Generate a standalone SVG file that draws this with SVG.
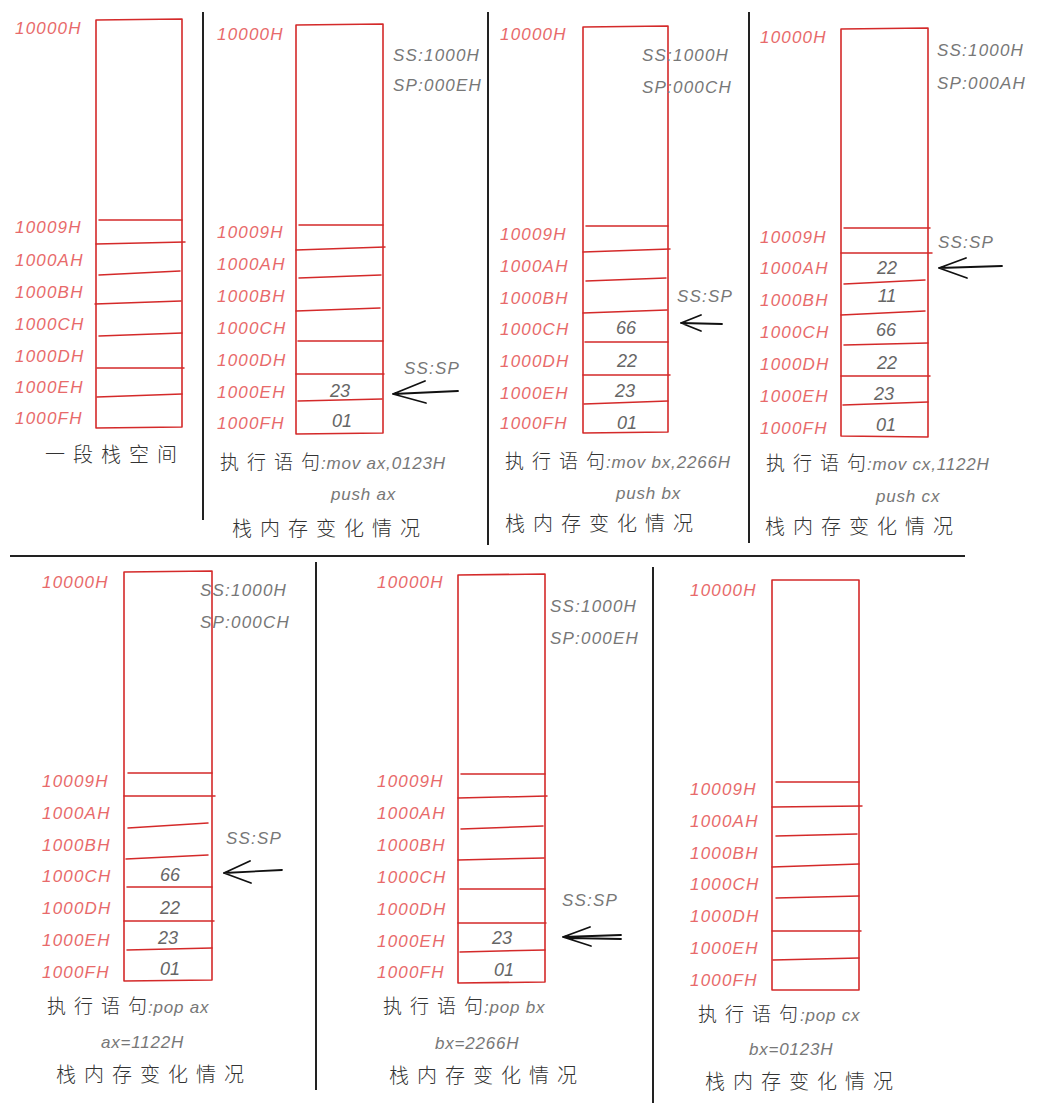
<svg xmlns="http://www.w3.org/2000/svg" width="1039" height="1113" viewBox="0 0 1039 1113">
<style>
.bg{fill:#ffffff}
.box{fill:none;stroke:#d42a2a;stroke-width:1.6;stroke-linecap:round;stroke-linejoin:round}
.row{fill:none;stroke:#d42a2a;stroke-width:1.5;stroke-linecap:round}
.div{stroke:#222;stroke-width:2;fill:none}
.addr{font-family:"Liberation Sans",Arial,sans-serif;font-style:italic;font-size:17px;letter-spacing:1.2px;fill:#e86a6a}
.val{font-family:"Liberation Sans",Arial,sans-serif;font-style:italic;font-size:18px;fill:#666;text-anchor:middle}
.reg{font-family:"Liberation Sans",Arial,sans-serif;font-style:italic;font-size:17px;letter-spacing:1.2px;fill:#777}
.ins{font-family:"Liberation Sans",Arial,sans-serif;font-style:italic;font-size:17px;letter-spacing:0.8px;fill:#777}
.cn{font-family:"Noto Sans CJK SC",sans-serif;font-weight:300;font-size:19px;fill:#333}
.arr{fill:none;stroke:#111;stroke-width:1.8;stroke-linecap:round}
</style>
<rect class="bg" x="0" y="0" width="1039" height="1113"/>

<g id="dividers">
<line class="div" x1="203" y1="12" x2="203" y2="520"/>
<line class="div" x1="488" y1="12" x2="488" y2="545"/>
<line class="div" x1="749" y1="12" x2="749" y2="543"/>
<line class="div" x1="10" y1="556" x2="965" y2="556"/>
<line class="div" x1="316" y1="562" x2="316" y2="1090"/>
<line class="div" x1="653" y1="567" x2="653" y2="1103"/>
</g>

<g id="panel1">
<path class="box" d="M96 20 L182 19 L182 427 L96 428 Z"/>
<path class="row" d="M99 220 H182 M96 244 L185 242 M99 275 L180 271 M95 304 L181 301 M99 336 L182 333 M97 368 H184 M97 397 L182 394"/>
<text class="addr" x="15" y="34">10000H</text>
<text class="addr" x="15" y="233">10009H</text>
<text class="addr" x="15" y="266">1000AH</text>
<text class="addr" x="15" y="298">1000BH</text>
<text class="addr" x="15" y="330">1000CH</text>
<text class="addr" x="15" y="362">1000DH</text>
<text class="addr" x="15" y="393">1000EH</text>
<text class="addr" x="15" y="424">1000FH</text>
<text class="cn" x="45 73 101 129 157" y="462" style="font-size:20px">一段栈空间</text>
</g>

<g id="panel2">
<path class="box" d="M296 25 L383 24 L383 433 L296 434 Z"/>
<path class="row" d="M299 225 H383 M296 250 L385 247 M299 278 L381 275 M296 311 L380 308 M298 341 H383 M296 374 H384 M298 401 L382 399"/>
<text class="addr" x="217" y="40">10000H</text>
<text class="addr" x="217" y="238">10009H</text>
<text class="addr" x="217" y="270">1000AH</text>
<text class="addr" x="217" y="302">1000BH</text>
<text class="addr" x="217" y="334">1000CH</text>
<text class="addr" x="217" y="366">1000DH</text>
<text class="addr" x="217" y="398">1000EH</text>
<text class="addr" x="217" y="429">1000FH</text>
<text class="reg" x="393" y="61">SS:1000H</text>
<text class="reg" x="393" y="91">SP:000EH</text>
<text class="reg" x="404" y="374">SS:SP</text>
<text class="val" x="340" y="397">23</text>
<text class="val" x="342" y="427">01</text>
<text class="cn" x="220 247 274 301" y="469">执行语句</text>
<text class="ins" x="321" y="469">:mov ax,0123H</text>
<text class="ins" x="331" y="500">push ax</text>
<text class="cn" x="232 260 288 316 344 372 400" y="536" style="font-size:20px">栈内存变化情况</text>
</g>

<g id="panel3">
<path class="box" d="M583 27 L668 26 L668 432 L583 433 Z"/>
<path class="row" d="M586 226 H668 M583 252 L670 249 M586 281 L666 278 M583 313 L667 310 M585 342 H668 M583 375 H670 M584 404 L668 401"/>
<text class="addr" x="500" y="40">10000H</text>
<text class="addr" x="500" y="240">10009H</text>
<text class="addr" x="500" y="272">1000AH</text>
<text class="addr" x="500" y="304">1000BH</text>
<text class="addr" x="500" y="335">1000CH</text>
<text class="addr" x="500" y="367">1000DH</text>
<text class="addr" x="500" y="399">1000EH</text>
<text class="addr" x="500" y="429">1000FH</text>
<text class="reg" x="642" y="61">SS:1000H</text>
<text class="reg" x="642" y="93">SP:000CH</text>
<text class="reg" x="677" y="302">SS:SP</text>
<text class="val" x="626" y="334">66</text>
<text class="val" x="627" y="367">22</text>
<text class="val" x="625" y="397">23</text>
<text class="val" x="627" y="429">01</text>
<text class="cn" x="505 532 559 586" y="468">执行语句</text>
<text class="ins" x="606" y="468">:mov bx,2266H</text>
<text class="ins" x="616" y="499">push bx</text>
<text class="cn" x="505 533 561 589 617 645 673" y="531" style="font-size:20px">栈内存变化情况</text>
</g>

<g id="panel4">
<path class="box" d="M841 29 L928 28 L928 437 L841 436 Z"/>
<path class="row" d="M844 228 H930 M841 253 H932 M844 284 L925 280 M841 315 L925 311 M844 345 L928 343 M841 376 H930 M843 405 L928 402"/>
<text class="addr" x="760" y="43">10000H</text>
<text class="addr" x="760" y="243">10009H</text>
<text class="addr" x="760" y="274">1000AH</text>
<text class="addr" x="760" y="306">1000BH</text>
<text class="addr" x="760" y="338">1000CH</text>
<text class="addr" x="760" y="370">1000DH</text>
<text class="addr" x="760" y="402">1000EH</text>
<text class="addr" x="760" y="434">1000FH</text>
<text class="reg" x="937" y="56">SS:1000H</text>
<text class="reg" x="937" y="89">SP:000AH</text>
<text class="reg" x="938" y="248">SS:SP</text>
<text class="val" x="887" y="274">22</text>
<text class="val" x="887" y="302">11</text>
<text class="val" x="886" y="336">66</text>
<text class="val" x="887" y="369">22</text>
<text class="val" x="884" y="400">23</text>
<text class="val" x="886" y="431">01</text>
<text class="cn" x="766 793 820 847" y="470">执行语句</text>
<text class="ins" x="867" y="470">:mov cx,1122H</text>
<text class="ins" x="876" y="502">push cx</text>
<text class="cn" x="765 793 821 849 877 905 933" y="534" style="font-size:20px">栈内存变化情况</text>
</g>

<g id="panel5">
<path class="box" d="M124 572 L212 571 L212 980 L124 981 Z"/>
<path class="row" d="M128 773 H212 M124 796 H215 M128 828 L208 823 M126 859 L208 855 M127 887 H212 M124 921 H214 M127 950 L212 948"/>
<text class="addr" x="42" y="588">10000H</text>
<text class="addr" x="42" y="787">10009H</text>
<text class="addr" x="42" y="819">1000AH</text>
<text class="addr" x="42" y="851">1000BH</text>
<text class="addr" x="42" y="882">1000CH</text>
<text class="addr" x="42" y="914">1000DH</text>
<text class="addr" x="42" y="946">1000EH</text>
<text class="addr" x="42" y="978">1000FH</text>
<text class="reg" x="200" y="596">SS:1000H</text>
<text class="reg" x="200" y="628">SP:000CH</text>
<text class="reg" x="226" y="844">SS:SP</text>
<text class="val" x="170" y="881">66</text>
<text class="val" x="170" y="914">22</text>
<text class="val" x="168" y="944">23</text>
<text class="val" x="170" y="975">01</text>
<text class="cn" x="47 74 101 128" y="1013">执行语句</text>
<text class="ins" x="148" y="1013">:pop ax</text>
<text class="ins" x="101" y="1048">ax=1122H</text>
<text class="cn" x="56 84 112 140 168 196 224" y="1082" style="font-size:20px">栈内存变化情况</text>
</g>

<g id="panel6">
<path class="box" d="M458 575 L545 574 L545 982 L458 983 Z"/>
<path class="row" d="M461 774 H545 M458 798 L547 796 M461 829 L543 826 M458 860 L544 858 M460 889 H545 M458 923 H546 M460 952 L545 950"/>
<text class="addr" x="377" y="588">10000H</text>
<text class="addr" x="377" y="787">10009H</text>
<text class="addr" x="377" y="819">1000AH</text>
<text class="addr" x="377" y="851">1000BH</text>
<text class="addr" x="377" y="883">1000CH</text>
<text class="addr" x="377" y="915">1000DH</text>
<text class="addr" x="377" y="947">1000EH</text>
<text class="addr" x="377" y="978">1000FH</text>
<text class="reg" x="550" y="612">SS:1000H</text>
<text class="reg" x="550" y="644">SP:000EH</text>
<text class="reg" x="562" y="906">SS:SP</text>
<text class="val" x="502" y="944">23</text>
<text class="val" x="504" y="976">01</text>
<text class="cn" x="383 410 437 464" y="1013">执行语句</text>
<text class="ins" x="484" y="1013">:pop bx</text>
<text class="ins" x="435" y="1049">bx=2266H</text>
<text class="cn" x="389 417 445 473 501 529 557" y="1083" style="font-size:20px">栈内存变化情况</text>
</g>

<g id="panel7">
<path class="box" d="M772 580 L859 580 L859 990 L772 990 Z"/>
<path class="row" d="M776 782 H859 M772 807 L862 806 M776 836 L857 834 M772 867 L859 864 M776 898 L859 896 M772 931 H861 M773 960 L859 958"/>
<text class="addr" x="690" y="596">10000H</text>
<text class="addr" x="690" y="795">10009H</text>
<text class="addr" x="690" y="827">1000AH</text>
<text class="addr" x="690" y="859">1000BH</text>
<text class="addr" x="690" y="890">1000CH</text>
<text class="addr" x="690" y="922">1000DH</text>
<text class="addr" x="690" y="954">1000EH</text>
<text class="addr" x="690" y="986">1000FH</text>
<text class="cn" x="698 725 752 779" y="1021">执行语句</text>
<text class="ins" x="800" y="1021">:pop cx</text>
<text class="ins" x="749" y="1055">bx=0123H</text>
<text class="cn" x="705 733 761 789 817 845 873" y="1089" style="font-size:20px">栈内存变化情况</text>
</g>

<g id="connectors">
<path class="arr" d="M458 391 L393 394 M393 394 L425 381 M393 394 L426 403"/>
<path class="arr" d="M722 324 L681 323 M681 323 L701 315 M681 323 L701 331"/>
<path class="arr" d="M1002 266 L939 268 M939 268 L966 258 M939 268 L967 278"/>
<path class="arr" d="M282 870 L224 873 M224 873 L250 861 M224 873 L251 883"/>
<path class="arr" d="M621 935 L563 937 M621 939 L570 938 M563 937 L590 927 M563 937 L591 946"/>
</g>
</svg>
